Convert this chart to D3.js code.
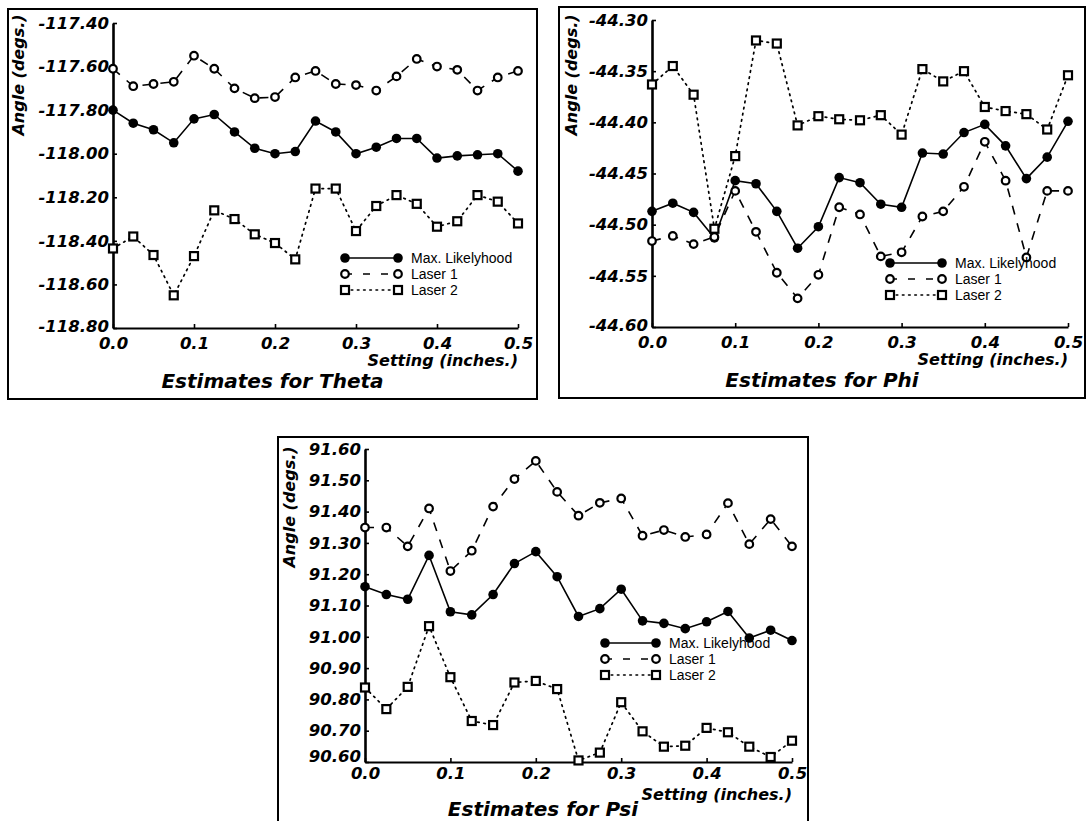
<!DOCTYPE html>
<html>
<head>
<meta charset="utf-8">
<script src="https://cdnjs.cloudflare.com/ajax/libs/d3/7.8.5/d3.min.js"></script>
<style>
  body { margin: 0; background: #fff; }
  text { font-family: "DejaVu Sans", sans-serif; fill: #000; }
</style>
</head>
<body>
<div id="chart"></div>
<script>
// Setting (inches.) for every sample, shared by all three plots
const settings = [0, 0.025, 0.05, 0.075, 0.1, 0.125, 0.15, 0.175, 0.2, 0.225, 0.25,
                  0.275, 0.3, 0.325, 0.35, 0.375, 0.4, 0.425, 0.45, 0.475, 0.5];

// Theta estimates (degs.)
const thetaML = [-117.80, -117.86, -117.89, -117.95, -117.84, -117.82, -117.90, -117.975, -118.00, -117.99, -117.85,
                 -117.90, -118.00, -117.97, -117.93, -117.93, -118.02, -118.01, -118.005, -118.00, -118.08];
const thetaLaser1 = [-117.61, -117.69, -117.68, -117.67, -117.55, -117.61, -117.70, -117.745, -117.74, -117.65, -117.62,
                     -117.68, -117.685, -117.71, -117.645, -117.565, -117.60, -117.615, -117.71, -117.65, -117.62];
const thetaLaser2 = [-118.435, -118.38, -118.465, -118.65, -118.47, -118.26, -118.30, -118.37, -118.41, -118.485, -118.16,
                     -118.16, -118.355, -118.24, -118.19, -118.23, -118.335, -118.31, -118.19, -118.22, -118.32];

// Phi estimates (degs.)
const phiML = [-44.487, -44.479, -44.488, -44.513, -44.457, -44.460, -44.487, -44.523, -44.502, -44.454, -44.459,
               -44.480, -44.483, -44.430, -44.431, -44.410, -44.402, -44.423, -44.455, -44.434, -44.399];
const phiLaser1 = [-44.516, -44.511, -44.519, -44.512, -44.467, -44.507, -44.547, -44.572, -44.549, -44.483, -44.490,
                   -44.531, -44.527, -44.492, -44.487, -44.463, -44.419, -44.457, -44.532, -44.467, -44.467];
const phiLaser2 = [-44.363, -44.345, -44.373, -44.504, -44.433, -44.320, -44.323, -44.403, -44.394, -44.397, -44.398,
                   -44.393, -44.412, -44.348, -44.360, -44.350, -44.385, -44.389, -44.392, -44.407, -44.354];

// Psi estimates (degs.)
const psiML = [91.16, 91.135, 91.12, 91.26, 91.08, 91.07, 91.135, 91.234, 91.272, 91.192, 91.065,
               91.09, 91.152, 91.051, 91.043, 91.026, 91.048, 91.081, 90.996, 91.021, 90.988];
const psiLaser1 = [91.349, 91.349, 91.289, 91.41, 91.21, 91.275, 91.416, 91.504, 91.562, 91.463, 91.387,
                   91.428, 91.442, 91.323, 91.341, 91.319, 91.327, 91.427, 91.296, 91.376, 91.289];
const psiLaser2 = [90.838, 90.769, 90.84, 91.034, 90.871, 90.731, 90.718, 90.854, 90.859, 90.833, 90.605,
                   90.63, 90.791, 90.698, 90.649, 90.652, 90.709, 90.695, 90.649, 90.616, 90.668];

// Tick labels
const xTicks = [0, 0.1, 0.2, 0.3, 0.4, 0.5];
const thetaTicks = [-117.4, -117.6, -117.8, -118.0, -118.2, -118.4, -118.6, -118.8];
const phiTicks = [-44.30, -44.35, -44.40, -44.45, -44.50, -44.55, -44.60];
const psiTicks = [91.6, 91.5, 91.4, 91.3, 91.2, 91.1, 91.0, 90.9, 90.8, 90.7, 90.6];

const seriesNames = ["Max. Likelyhood", "Laser 1", "Laser 2"];

const svg = d3.select('#chart').append('svg')
  .attr('width', 1088)
  .attr('height', 821);

// Series styles: solid + filled dots, dashed + open circles, dotted + open squares
const styles = [
  {dash: null, marker: 'dot'},
  {dash: '9,9', marker: 'circle'},
  {dash: '1.6,4.6', marker: 'square'}
];

function drawMarker(g, kind, cx, cy) {
  if (kind === 'dot') {
    g.append('circle').attr('cx', cx).attr('cy', cy).attr('r', 4.8)
      .attr('fill', '#000');
  } else if (kind === 'circle') {
    g.append('circle').attr('cx', cx).attr('cy', cy).attr('r', 3.8)
      .attr('fill', '#fff').attr('stroke', '#000').attr('stroke-width', 2.2);
  } else {
    g.append('rect').attr('x', cx - 4).attr('y', cy - 4).attr('width', 8).attr('height', 8)
      .attr('fill', '#fff').attr('stroke', '#000').attr('stroke-width', 2.2);
  }
}

function drawPanel(cfg) {
  const g = svg.append('g');

  // outer box
  g.append('rect')
    .attr('x', cfg.frame[0]).attr('y', cfg.frame[1])
    .attr('width', cfg.frame[2]).attr('height', cfg.frame[3])
    .attr('fill', 'none').attr('stroke', '#000').attr('stroke-width', 2);

  const x = d3.scaleLinear().domain([0, 0.5]).range([cfg.left, cfg.right]);
  const y = d3.scaleLinear().domain(cfg.domain).range([cfg.bottom, cfg.top]);

  const xAxis = d3.axisBottom(x).tickValues(xTicks)
    .tickSize(-4).tickSizeOuter(0).tickPadding(cfg.xPad)
    .tickFormat(d3.format('.1f'));
  const yAxis = d3.axisLeft(y).tickValues(cfg.ticks)
    .tickSize(-4).tickSizeOuter(0).tickPadding(4)
    .tickFormat(d => d.toFixed(2));

  const xg = g.append('g')
    .attr('transform', 'translate(0,' + cfg.bottom + ')')
    .call(xAxis);
  const yg = g.append('g')
    .attr('transform', 'translate(' + cfg.left + ',0)')
    .call(yAxis);

  xg.select('.domain').attr('stroke-width', 1.8);
  yg.select('.domain').attr('stroke-width', 2.6);
  g.selectAll('.tick line').attr('stroke-width', 1.6);
  g.selectAll('.tick text')
    .attr('font-family', '"DejaVu Sans", sans-serif')
    .attr('font-size', 16.5)
    .attr('font-weight', 'bold')
    .attr('font-style', 'italic');
  // keep the lowest y label just clear of the "0.0" below it
  yg.selectAll('.tick text').filter(d => d === cfg.domain[0]).attr('dy', cfg.lowDy);

  // axis titles
  g.append('text')
    .attr('x', cfg.right).attr('y', cfg.bottom + cfg.settingDy)
    .attr('text-anchor', 'end')
    .style('font', 'italic bold 16px "DejaVu Sans", sans-serif')
    .text('Setting (inches.)');

  g.append('text')
    .attr('transform', 'translate(' + cfg.yLabel[0] + ',' + cfg.yLabel[1] + ') rotate(-90)')
    .attr('text-anchor', 'middle')
    .attr('dy', '0.35em')
    .style('font', 'italic bold 16px "DejaVu Sans", sans-serif')
    .text('Angle (degs.)');

  g.append('text')
    .attr('x', cfg.frame[0] + cfg.frame[2] / 2).attr('y', cfg.bottom + cfg.titleDy)
    .attr('text-anchor', 'middle')
    .style('font', 'italic bold 20px "DejaVu Sans", sans-serif')
    .text(cfg.title);

  // series lines then markers
  const line = d3.line()
    .x((d, i) => x(settings[i]))
    .y(d => y(d));

  cfg.series.forEach((values, k) => {
    g.append('path')
      .datum(values)
      .attr('d', line)
      .attr('fill', 'none')
      .attr('stroke', '#000')
      .attr('stroke-width', k === 2 ? 1.7 : 1.6)
      .attr('stroke-linecap', k === 2 ? 'round' : 'butt')
      .attr('stroke-dasharray', styles[k].dash);
  });
  cfg.series.forEach((values, k) => {
    values.forEach((v, i) => drawMarker(g, styles[k].marker, x(settings[i]), y(v)));
  });

  // legend
  const L = cfg.legend;
  seriesNames.forEach((name, k) => {
    const ly = L.y + k * L.dy;
    g.append('line')
      .attr('x1', L.x1).attr('x2', L.x2).attr('y1', ly).attr('y2', ly)
      .attr('stroke', '#000').attr('stroke-width', 1.6)
      .attr('stroke-linecap', k === 2 ? 'round' : 'butt')
      .attr('stroke-dasharray', k === 1 ? '7,11' : styles[k].dash);
    drawMarker(g, styles[k].marker, L.x1, ly);
    drawMarker(g, styles[k].marker, L.x2, ly);
    g.append('text')
      .attr('x', L.x2 + 13).attr('y', ly)
      .attr('dy', '0.36em')
      .style('font', '14px "Liberation Sans", Arial, sans-serif')
      .text(name);
  });
}

drawPanel({
  title: 'Estimates for Theta',
  series: [thetaML, thetaLaser1, thetaLaser2],
  ticks: thetaTicks, domain: [-118.8, -117.4],
  frame: [8, 9, 529, 390],
  left: 113, right: 518, top: 23, bottom: 328,
  xPad: 9, lowDy: '0.2em', settingDy: 38, titleDy: 60,
  yLabel: [18, 75],
  legend: {x1: 345, x2: 398, y: 258, dy: 16}
});

drawPanel({
  title: 'Estimates for Phi',
  series: [phiML, phiLaser1, phiLaser2],
  ticks: phiTicks, domain: [-44.6, -44.3],
  frame: [559, 7, 526, 391],
  left: 652, right: 1068, top: 20, bottom: 327,
  xPad: 9, lowDy: '0.2em', settingDy: 38, titleDy: 60,
  yLabel: [571, 75],
  legend: {x1: 890, x2: 942, y: 263, dy: 16}
});

drawPanel({
  title: 'Estimates for Psi',
  series: [psiML, psiLaser1, psiLaser2],
  ticks: psiTicks, domain: [90.6, 91.6],
  frame: [278, 437, 530, 400],
  left: 365, right: 792, top: 449, bottom: 762,
  xPad: 5, lowDy: '-0.05em', settingDy: 38, titleDy: 54,
  yLabel: [289, 507],
  legend: {x1: 605, x2: 656, y: 643, dy: 16}
});
</script>
</body>
</html>
